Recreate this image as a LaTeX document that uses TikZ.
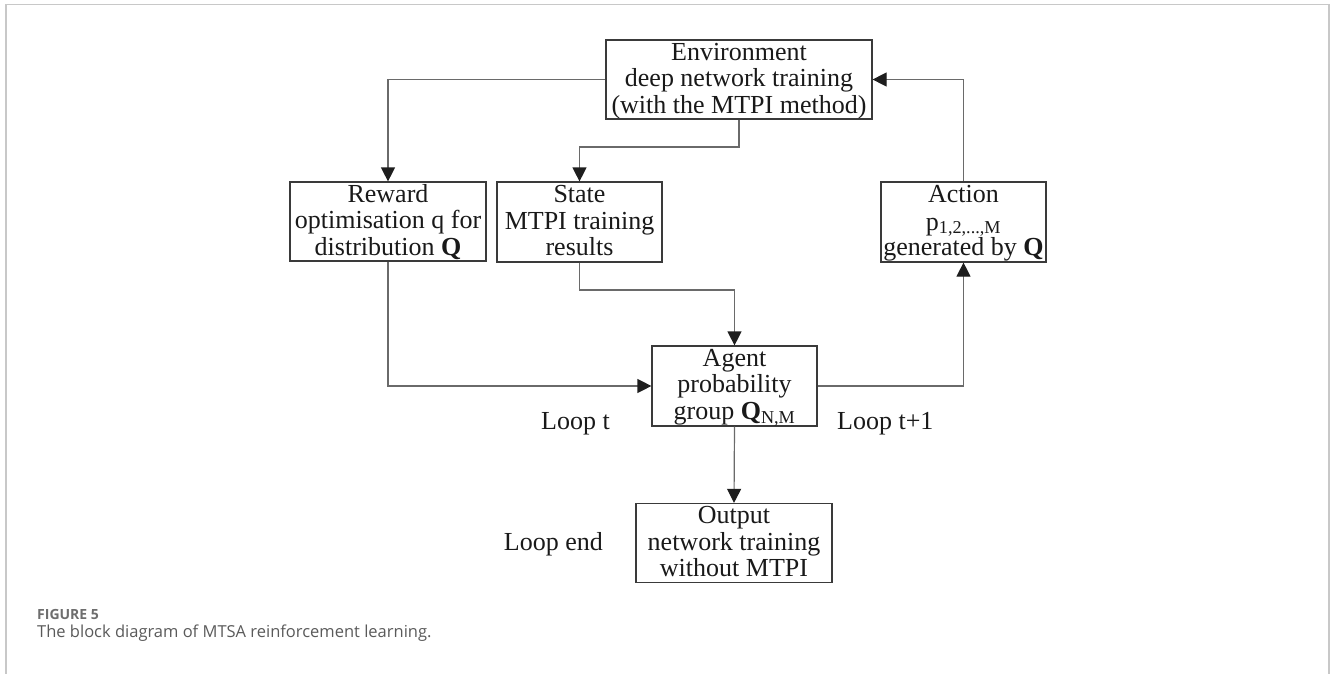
\documentclass[tikz,border=0pt]{standalone}
\usepackage{fontspec}
\setmainfont{Liberation Serif}
\newfontfamily\capfont{Open Sans}
\usetikzlibrary{arrows.meta}
\definecolor{boxline}{HTML}{3A3A3A}
\definecolor{conline}{HTML}{6A6A6A}
\definecolor{tipcol}{HTML}{1E1E1E}
\definecolor{framecol}{HTML}{C8C8C8}
\definecolor{capgray}{HTML}{6E6E6E}
\definecolor{captext}{HTML}{5A5A5A}
\newcommand{\toprule}{\rule{0pt}{20pt}}
\newcommand{\botrule}{\rule[-5.6pt]{0pt}{5.6pt}}
\begin{document}
\begin{tikzpicture}[x=1pt,y=-1pt,
  blk/.style={draw=boxline, line width=1.2pt, inner sep=0pt, align=center,
    font=\fontsize{26}{26.7}\selectfont, text=black!90},
  lbl/.style={inner sep=0pt, font=\fontsize{26}{26.7}\selectfont, text=black!90},
  arr/.style={draw=conline, line width=1.2pt,
    -{Triangle[length=14pt,width=14pt,fill=tipcol,color=tipcol]}}
]
\useasboundingbox (0,0) rectangle (1330,674);
\draw[framecol, line width=1.4pt] (6,674) -- (6,4.3) -- (1329,4.3) -- (1329,674);

\node[blk, minimum width=266pt, minimum height=79pt] (env) at (739,79.5)
  {\toprule Environment\\deep network training\\(with the MTPI method)\botrule};
\node[blk, minimum width=196pt, minimum height=79pt] (rew) at (388,221.5)
  {\toprule Reward\\optimisation q for\\distribution \textbf{Q}\botrule};
\node[blk, minimum width=165pt, minimum height=80pt] (state) at (579.5,222)
  {\toprule State\\MTPI training\\results\botrule};
\node[blk, minimum width=165pt, minimum height=80pt] (act) at (963.5,222)
  {\toprule Action\\[1pt]p\textsubscript{1,2,...,M}\\[-1pt]generated by \textbf{Q}\botrule};
\node[blk, minimum width=165pt, minimum height=80pt] (agent) at (734.5,386)
  {\toprule Agent\\probability\\group \textbf{Q}\textsubscript{N,M}\botrule};
\node[blk, minimum width=196pt, minimum height=79pt] (out) at (734,543)
  {\toprule Output\\network training\\without MTPI\botrule};

\node[lbl, anchor=base east] (lt) at (610,429) {Loop t};
\node[lbl, anchor=base west] (lt1) at (837,429) {Loop t+1};
\node[lbl, anchor=base east] (le) at (603,550) {Loop end};

\coordinate (e1) at (739,147);
\coordinate (s1) at (579.5,290);

\draw[arr] (env.west) -| (rew.north);
\draw[arr] (env.south) -- (e1) -| (state.north);
\draw[arr] (state.south) -- (s1) -| (agent.north);
\draw[arr] (rew.south) |- (agent.west);
\draw[arr] (agent.east) -| (act.south);
\draw[arr] (act.north) |- (env.east);
\draw[arr] (agent.south) -- (out.north);

\node[anchor=base west, inner sep=0pt, text=capgray,
  font=\capfont\bfseries\fontsize{14}{16}\selectfont] (fig) at (37,619) {FIGURE 5};
\node[anchor=base west, inner sep=0pt, text=captext,
  font=\capfont\fontsize{16.5}{18}\selectfont] (cap) at (37,637)
  {The block diagram of MTSA reinforcement learning.};
\end{tikzpicture}
\end{document}
